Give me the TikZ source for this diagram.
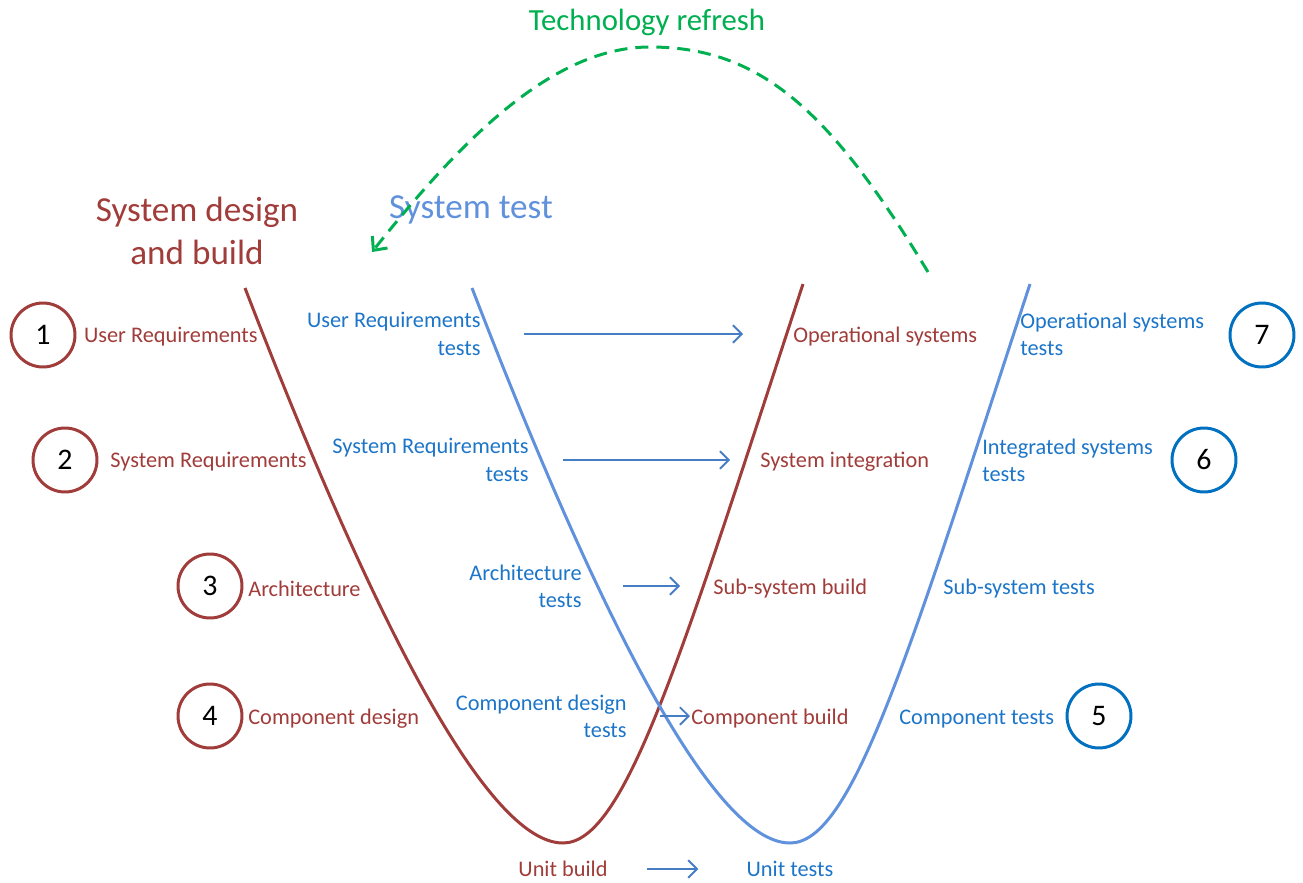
\documentclass[tikz,border=0pt]{standalone}
\usepackage{fontspec}
\setmainfont{Carlito}
\usepackage{tikz}
\usetikzlibrary{arrows.meta}
\usetikzlibrary{positioning}
\definecolor{buildred}{RGB}{160,60,57}
\definecolor{testblue}{RGB}{28,117,200}
\definecolor{curveblue}{RGB}{95,145,220}
\definecolor{circblue}{RGB}{0,112,192}
\definecolor{flowblue}{RGB}{70,125,195}
\definecolor{refreshgreen}{RGB}{0,176,80}

\begin{document}
\begin{tikzpicture}[x=0.02cm, y=-0.02cm]
				\tikzstyle{redlab}=[text=buildred, inner sep=0pt, font=\fontsize{12.7}{15.5}\selectfont]
				\tikzstyle{bluelab}=[text=testblue, inner sep=0pt, font=\fontsize{12.7}{15.5}\selectfont]
				\tikzstyle{redcirc}=[draw=buildred, circle, line width=1.7pt, minimum size=1.28cm, text=black, font=\fontsize{17}{20}\selectfont]
				\tikzstyle{bluecirc}=[draw=circblue, circle, line width=1.7pt, minimum size=1.28cm, text=black, font=\fontsize{17}{20}\selectfont]
				\tikzstyle{flow}=[-{Straight Barb[length=5pt,width=10pt]}, line width=1.1pt, flowblue]
				
				\useasboundingbox (0,0) rectangle (1303,883);
				
				% the two V curves
				\draw [line width=1.7pt, buildred] (245,288) .. controls (400,690) and (500,843) .. (563,843) .. controls (625,843) and (680,660) .. (803,284);
				\draw [line width=1.7pt, curveblue] (472,288) .. controls (627,690) and (727,843) .. (790,843) .. controls (852,843) and (907,660) .. (1030,284);
				
				% titles
				\node (tdb) at (197,231) [text=buildred, align=center, font=\fontsize{20}{24}\selectfont] {System design\\and build};
				\node (tst) at (471,210) [text=curveblue, font=\fontsize{20}{24}\selectfont] {System test};
				\node (trf) at (647,22) [text=refreshgreen, font=\fontsize{17.5}{21}\selectfont] {Technology refresh};
				
				% numbered steps
				\node (n1) at (43,335) [redcirc] {1};
				\node (n2) at (65,460) [redcirc] {2};
				\node (n3) at (210,586) [redcirc] {3};
				\node (n4) at (210,716) [redcirc] {4};
				\node (n5) at (1099,716) [bluecirc] {5};
				\node (n6) at (1204,460) [bluecirc] {6};
				\node (n7) at (1262,335) [bluecirc] {7};
				
				% design side
				\node (ur) at (258,337) [redlab, anchor=east] {User Requirements};
				\node (sr) at (307,462) [redlab, anchor=east] {System Requirements};
				\node (ar) at (248,589) [redlab, anchor=west] {Architecture};
				\node (cd) at (248,719) [redlab, anchor=west] {Component design};
				\node (ub) at (563,869) [redlab] {Unit build};
				
				% build side
				\node (ops) at (793,337) [redlab, anchor=west] {Operational systems};
				\node (sin) at (760,462) [redlab, anchor=west] {System integration};
				\node (ssb) at (713,589) [redlab, anchor=west] {Sub-system build};
				\node (cb) at (691,719) [redlab, anchor=west] {Component build};
				
				% test side, left
				\node (urt) at (481,334) [bluelab, anchor=east, align=right] {User Requirements\\tests};
				\node (srt) at (529,460) [bluelab, anchor=east, align=right] {System Requirements\\tests};
				\node (art) at (582,586) [bluelab, anchor=east, align=right] {Architecture\\tests};
				\node (cdt) at (627,716) [bluelab, anchor=east, align=right] {Component design\\tests};
				\node (ut) at (790,869) [bluelab] {Unit tests};
				
				% test side, right
				\node (opt) at (1020,334) [bluelab, anchor=west, align=left] {Operational systems\\tests};
				\node (ist) at (982,460) [bluelab, anchor=west, align=left] {Integrated systems\\tests};
				\node (sst) at (943,589) [bluelab, anchor=west] {Sub-system tests};
				\node (ct) at (899,719) [bluelab, anchor=west] {Component tests};
				
				% level arrows
				\draw [flow, shorten <=0.86cm, shorten >=1.0cm] (urt.east) -- (urt.east -| ops.west);
				\draw [flow, shorten <=0.68cm, shorten >=0.6cm] (srt.east) -- (srt.east -| sin.west);
				\draw [flow, shorten <=0.82cm, shorten >=0.66cm] (art.east) -- (art.east -| ssb.west);
				\draw [flow, shorten <=0.66cm, shorten >=0.02cm] (cdt.east) -- (cdt.east -| cb.west);
				\draw [flow, shorten <=0.78cm, shorten >=0.96cm] (ub.east) -- (ub.east -| ut.west);
				
				% technology refresh loop
				\coordinate (r0) at (928,272);
				\coordinate (r1) at (372,252);
				\draw [-{Straight Barb[length=6pt,width=11pt]}, line width=1.7pt, refreshgreen, dash pattern=on 0.26cm off 0.16cm] (r0) .. controls (830,110) and (760,47) .. (650,47) .. controls (555,47) and (465,135) .. (r1);
				\end{tikzpicture}
\end{document}
